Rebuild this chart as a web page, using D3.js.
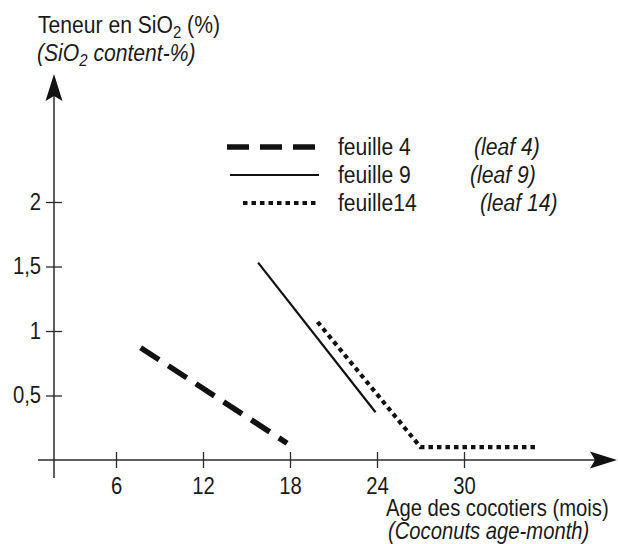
<!DOCTYPE html>
<meta charset="utf-8">
<script src="https://d3js.org/d3.v7.min.js"></script>
<style>
  body { margin: 0; background: #fff; }
  text { font-family: "Liberation Sans", Arial, sans-serif; fill: #1a1a1a; }
  /* squeeze the text to look like a narrow face */
  .nl, .nc, .nr { transform-box: fill-box; transform: scaleX(0.88); }
  .nl { transform-origin: left center; }
  .nc { transform-origin: center center; }
  .nr { transform-origin: right center; }
</style>
<div id="my_dataviz"></div>
<script>

// data (x = age in months, y = SiO2 %)
var leaf4  = [[7.7, 0.87], [17.8, 0.13]];
var leaf9  = [[15.8, 1.53], [23.9, 0.37]];
var leaf14 = [[19.9, 1.07], [27, 0.10], [35, 0.10]];

var xTicks = [6, 12, 18, 24, 30];
var yTicks = [0.5, 1, 1.5, 2];

var legendFr = ["feuille 4", "feuille 9", "feuille14"];
var legendEn = ["(leaf 4)", "(leaf 9)", "(leaf 14)"];

var width = 618, height = 544;

var svg = d3.select("#my_dataviz")
  .append("svg")
    .attr("width", width)
    .attr("height", height);

// scales
var x = d3.scaleLinear().domain([6, 30]).range([116, 464]);
var y = d3.scaleLinear().domain([0, 2]).range([460, 202]);

var x0 = 54, y0 = y(0);

// axis lines
svg.append("line")
  .attr("x1", x0).attr("x2", x0)
  .attr("y1", 478).attr("y2", 90)
  .attr("stroke", "#2a2a2a").attr("stroke-width", 1.5);
svg.append("line")
  .attr("x1", 38).attr("x2", 605)
  .attr("y1", y0).attr("y2", y0)
  .attr("stroke", "#2a2a2a").attr("stroke-width", 1.5);

// arrow heads
svg.append("path")
  .attr("d", "M" + x0 + ",74 L" + (x0 + 8.5) + ",101 L" + x0 + ",96 L" + (x0 - 8.5) + ",101 Z")
  .attr("fill", "#111");
svg.append("path")
  .attr("d", "M617," + y0 + " L590," + (y0 - 8.5) + " L595," + y0 + " L590," + (y0 + 8.5) + " Z")
  .attr("fill", "#111");

// y axis ticks
var gy = svg.append("g")
  .attr("transform", "translate(" + x0 + ",0)")
  .call(d3.axisLeft(y).tickValues(yTicks).tickSize(8).tickPadding(5)
    .tickFormat(function(d){ return String(d).replace(".", ","); }));
gy.select(".domain").remove();
gy.selectAll(".tick line").attr("x1", 8).attr("stroke", "#2a2a2a").attr("stroke-width", 1.3);
gy.selectAll(".tick text").attr("class", "nr").style("font-size", "23px").attr("fill", "#1a1a1a");

// x axis ticks
var gx = svg.append("g")
  .attr("transform", "translate(0," + y0 + ")")
  .call(d3.axisBottom(x).tickValues(xTicks).tickSize(8).tickPadding(10));
gx.select(".domain").remove();
gx.selectAll(".tick line").attr("y1", -8).attr("stroke", "#2a2a2a").attr("stroke-width", 1.3);
gx.selectAll(".tick text").attr("class", "nc").style("font-size", "23px").attr("fill", "#1a1a1a");

// series
var line = d3.line()
  .x(function(d) { return x(d[0]); })
  .y(function(d) { return y(d[1]); });

var styles = [
  {w: 5.5, dash: "22,11"},
  {w: 2.2, dash: null},
  {w: 4.2, dash: "4.5,4"}
];
var series = [leaf4, leaf9, leaf14];

series.forEach(function(s, i) {
  svg.append("path")
    .datum(s)
    .attr("d", line)
    .attr("fill", "none")
    .attr("stroke", "#111")
    .attr("stroke-width", styles[i].w)
    .attr("stroke-dasharray", styles[i].dash);
});

// legend
var legY = [147, 175, 203];
var legX1 = [227, 230, 243];
var legXen = [474, 470, 480];
legendFr.forEach(function(t, i) {
  svg.append("line")
    .attr("x1", legX1[i]).attr("x2", 319)
    .attr("y1", legY[i]).attr("y2", legY[i])
    .attr("stroke", "#111")
    .attr("stroke-width", styles[i].w)
    .attr("stroke-dasharray", styles[i].dash);
  svg.append("text")
    .attr("class", "nl")
    .attr("x", 338).attr("y", legY[i] + 8)
    .style("font-size", "24px")
    .text(t);
  svg.append("text")
    .attr("class", "nl")
    .attr("x", legXen[i]).attr("y", legY[i] + 8)
    .style("font-size", "24px")
    .style("font-style", "italic")
    .text(legendEn[i]);
});

// y axis title
var t1 = svg.append("text").attr("class", "nl").attr("x", 38).attr("y", 33).style("font-size", "24px");
t1.append("tspan").text("Teneur en SiO");
t1.append("tspan").text("2").attr("dy", 5).style("font-size", "17px");
t1.append("tspan").text(" (%)").attr("dy", -5);

var t2 = svg.append("text").attr("class", "nl").attr("x", 37).attr("y", 61).style("font-size", "24px").style("font-style", "italic");
t2.append("tspan").text("(SiO");
t2.append("tspan").text("2").attr("dy", 5).style("font-size", "17px");
t2.append("tspan").text(" content-%)").attr("dy", -5);

// x axis title
svg.append("text")
  .attr("class", "nl")
  .attr("x", 386).attr("y", 516)
  .style("font-size", "23px")
  .text("Age des cocotiers (mois)");
svg.append("text")
  .attr("class", "nl")
  .attr("x", 388).attr("y", 539)
  .style("font-size", "23px")
  .style("font-style", "italic")
  .text("(Coconuts age-month)");

</script>
